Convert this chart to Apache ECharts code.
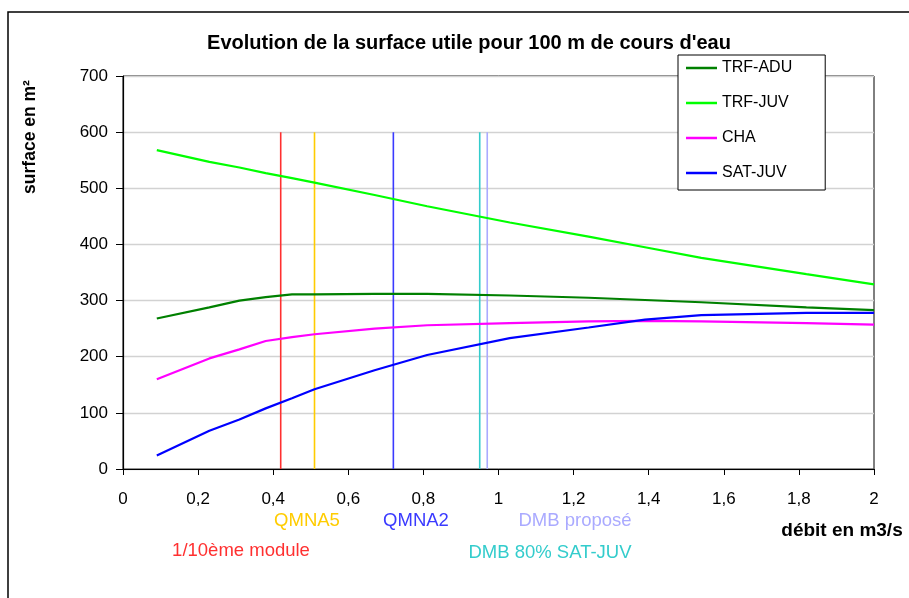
<!DOCTYPE html>
<html>
<head>
<meta charset="utf-8">
<script src="https://cdn.jsdelivr.net/npm/echarts@6/dist/echarts.min.js"></script>
<style>
  html, body { margin: 0; padding: 0; background: #fff; }
  #chart { width: 909px; height: 598px; }
</style>
</head>
<body>
<div id="chart"></div>
<script>
// Débits (m3/s) auxquels les surfaces utiles ont été calculées
const debits = [0.09, 0.23, 0.31, 0.38, 0.45, 0.51, 0.67, 0.81, 1.03, 1.24, 1.39, 1.54, 1.82, 2.0];

// Surfaces utiles (m²) pour 100 m de cours d'eau, par espèce / stade
const trfAdu = [268, 288, 300, 306, 311, 311, 312, 312, 309, 305, 301, 297, 288, 283];
const trfJuv = [568, 547, 537, 527, 518, 510, 488, 468, 439, 414, 395, 376, 347, 329];
const cha    = [160, 197, 213, 228, 235, 240, 250, 256, 260, 263, 264, 263, 260, 257];
const satJuv = [24, 68, 88, 108, 126, 142, 176, 203, 233, 252, 266, 274, 278, 278];

// Débits de référence tracés en traits verticaux
const reperesNoms    = ['1/10ème module', 'QMNA5', 'QMNA2', 'DMB 80% SAT-JUV', 'DMB proposé'];
const reperesDebits  = [0.42, 0.51, 0.72, 0.95, 0.97];
const reperesHauteur = 600;

const FONT = 'Liberation Sans, Arial, sans-serif';

const courbes = [
  { name: 'TRF-ADU', values: trfAdu, color: '#008000' },
  { name: 'TRF-JUV', values: trfJuv, color: '#00FF00' },
  { name: 'CHA',     values: cha,    color: '#FF00FF' },
  { name: 'SAT-JUV', values: satJuv, color: '#0000FF' }
];

const couleursReperes = {
  '1/10ème module': '#FF3030',
  'QMNA5': '#FFCC00',
  'QMNA2': '#3a3aff',
  'DMB 80% SAT-JUV': '#33CCCC',
  'DMB proposé': '#AAAAFF'
};

const series = courbes.map(c => ({
  name: c.name,
  type: 'line',
  data: debits.map((d, i) => [d, c.values[i]]),
  symbol: 'none',
  smooth: false,
  lineStyle: { color: c.color, width: 2.2 },
  itemStyle: { color: c.color },
  z: 3
}));

reperesNoms.forEach((nom, i) => {
  series.push({
    name: nom,
    type: 'line',
    data: [[reperesDebits[i], 0], [reperesDebits[i], reperesHauteur]],
    symbol: 'none',
    silent: true,
    lineStyle: { color: couleursReperes[nom], width: 1.6 },
    z: 2
  });
});

// Libellés des débits de référence, sous l'axe des abscisses
const libelles = [
  { text: 'QMNA5',           x: 307, y: 521 },
  { text: 'QMNA2',           x: 416, y: 521 },
  { text: 'DMB proposé',     x: 575, y: 521 },
  { text: '1/10ème module',  x: 241, y: 551 },
  { text: 'DMB 80% SAT-JUV', x: 550, y: 553 }
];

const chart = echarts.init(document.getElementById('chart'), null, { renderer: 'canvas' });

chart.setOption({
  backgroundColor: '#ffffff',
  animation: false,
  textStyle: { fontFamily: FONT },
  title: {
    text: "Evolution de la surface utile pour 100 m de cours d'eau",
    left: 464,
    textAlign: 'center',
    top: 28,
    textStyle: { fontFamily: FONT, fontSize: 20, fontWeight: 'bold', color: '#000' }
  },
  legend: {
    data: courbes.map(c => c.name),
    orient: 'vertical',
    left: 678,
    top: 55,
    padding: [5, 33, 9, 8],
    itemGap: 19,
    itemWidth: 31,
    itemHeight: 2.5,
    icon: 'rect',
    backgroundColor: '#ffffff',
    borderColor: '#000000',
    borderWidth: 1,
    borderRadius: 0,
    textStyle: { fontFamily: FONT, fontSize: 16, color: '#000', lineHeight: 16 },
    z: 10
  },
  grid: {
    left: 123, right: 35, top: 76, bottom: 129,
    show: true,
    borderColor: '#000',
    borderWidth: 1,
    backgroundColor: 'transparent'
  },
  xAxis: {
    type: 'value',
    min: 0, max: 2, interval: 0.2,
    axisLine: { show: true, lineStyle: { color: '#000', width: 1.2 } },
    axisTick: { show: true, length: 6, lineStyle: { color: '#000' } },
    splitLine: { show: false },
    axisLabel: {
      margin: 22,
      fontFamily: FONT, fontSize: 17, color: '#000',
      formatter: v => String(+v.toFixed(1)).replace('.', ',')
    }
  },
  yAxis: {
    type: 'value',
    min: 0, max: 700, interval: 100,
    axisLine: { show: true, lineStyle: { color: '#000', width: 1.2 } },
    axisTick: { show: true, length: 7, lineStyle: { color: '#000' } },
    splitLine: { show: true, lineStyle: { color: '#d2d2d2', width: 1.3 } },
    axisLabel: { margin: 15, fontFamily: FONT, fontSize: 17, color: '#000' }
  },
  graphic: [
    // cadre général du graphique
    {
      type: 'rect',
      shape: { x: 8, y: 12, width: 960, height: 640 },
      style: { fill: 'none', stroke: '#000', lineWidth: 1.5 },
      silent: true
    },
    {
      type: 'text',
      x: 30, y: 137,
      rotation: Math.PI / 2,
      style: {
        text: 'surface en m²',
        fontFamily: FONT, fontSize: 17.5, fontWeight: 'bold', fill: '#000',
        align: 'center', verticalAlign: 'middle'
      }
    },
    {
      type: 'text',
      x: 842, y: 531,
      style: {
        text: 'débit en m3/s',
        fontFamily: FONT, fontSize: 19, fontWeight: 'bold', fill: '#000',
        align: 'center', verticalAlign: 'middle'
      }
    }
  ].concat(libelles.map(l => ({
    type: 'text',
    x: l.x, y: l.y,
    style: {
      text: l.text,
      fontFamily: FONT, fontSize: 18.5, fill: couleursReperes[l.text],
      align: 'center', verticalAlign: 'middle'
    }
  }))),
  series: series
});
</script>
</body>
</html>
